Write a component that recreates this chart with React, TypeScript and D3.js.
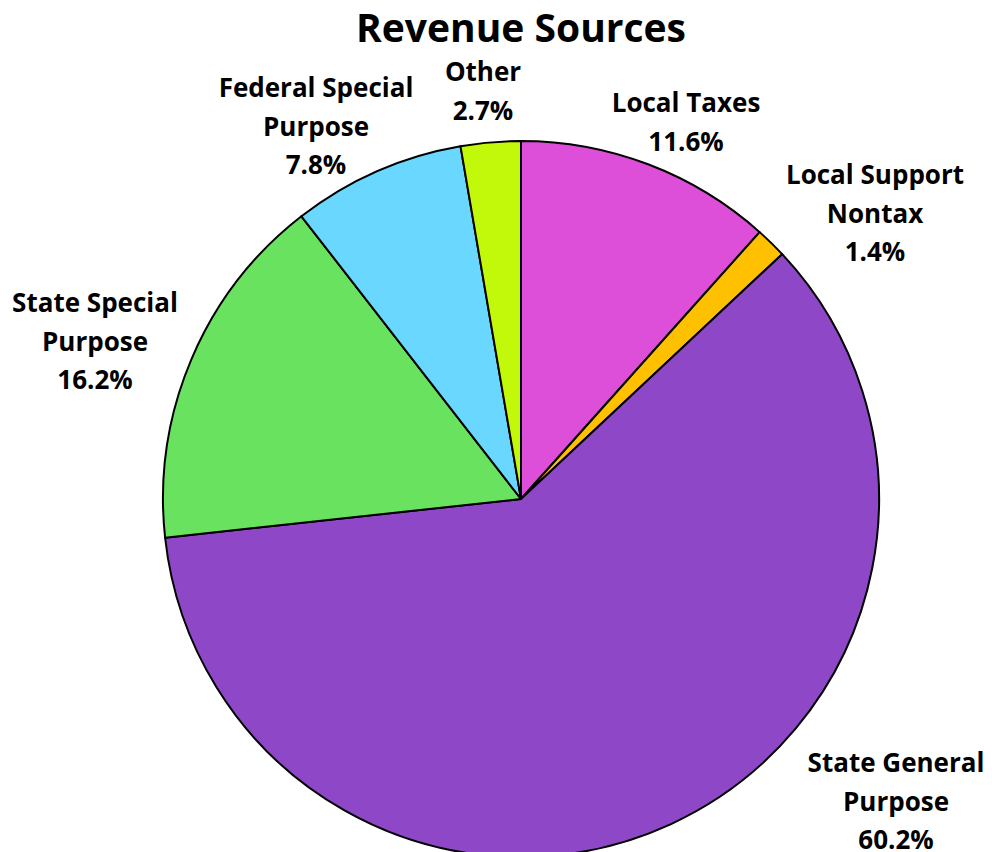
import { useEffect, useRef } from "react";
import * as d3 from "d3";

const categories = [
  "Local Taxes",
  "Local Support Nontax",
  "State General Purpose",
  "State Special Purpose",
  "Federal Special Purpose",
  "Other",
];
const shares = [11.6, 1.4, 60.2, 16.2, 7.8, 2.7];
const labelLines = [
  ["Local Taxes"],
  ["Local Support", "Nontax"],
  ["State General", "Purpose"],
  ["State Special", "Purpose"],
  ["Federal Special", "Purpose"],
  ["Other"],
];
const colors = ["#dd4fd8", "#ffc000", "#8e47c6", "#69e35f", "#6ad7ff", "#c2f80a"];

// label anchor (centre x, first line y) relative to pie centre
const labelPos: [number, number][] = [
  [165, -396],
  [354, -324],
  [375, 264],
  [-426, -196],
  [-205, -411],
  [-38, -427],
];

export default function App() {
  const ref = useRef<SVGSVGElement>(null);

  useEffect(() => {
    if (!ref.current) return;
    const svg = d3.select(ref.current);
    svg.selectAll("*").remove();
    const w = 992, h = 852;
    const cx = 521, cy = 499, r = 358;
    const font = "'Open Sans', sans-serif";

    svg.append("text")
      .attr("x", cx).attr("y", 42)
      .attr("text-anchor", "middle")
      .attr("font-family", font).attr("font-weight", 700).attr("font-size", 39)
      .attr("fill", "#000")
      .text("Revenue Sources");

    const pie = d3.pie<number>().sort(null).value((d) => d);
    const arc = d3.arc<d3.PieArcDatum<number>>().innerRadius(0).outerRadius(r);

    const g = svg.append("g").attr("transform", `translate(${cx},${cy})`);
    g.selectAll("path")
      .data(pie(shares))
      .join("path")
      .attr("d", arc)
      .attr("fill", (_, i) => colors[i])
      .attr("stroke", "#000")
      .attr("stroke-width", 2)
      .attr("stroke-linejoin", "round");

    const lab = svg.append("g").attr("transform", `translate(${cx},${cy})`);
    categories.forEach((c, i) => {
      const lines = [...labelLines[i], `${shares[i].toFixed(1)}%`];
      const t = lab.append("text")
        .attr("text-anchor", "middle")
        .attr("font-family", font).attr("font-weight", 700).attr("font-size", 26)
        .attr("fill", "#000");
      lines.forEach((l, j) => {
        t.append("tspan")
          .attr("x", labelPos[i][0])
          .attr("y", labelPos[i][1] + j * 38.5 + 9)
          .text(l);
      });
      t.attr("data-name", c);
    });
    svg.attr("viewBox", `0 0 ${w} ${h}`);
  }, []);

  return (
    <svg
      ref={ref}
      width={992}
      height={852}
      style={{ position: "absolute", left: 0, top: 0, background: "#fff" }}
    />
  );
}
